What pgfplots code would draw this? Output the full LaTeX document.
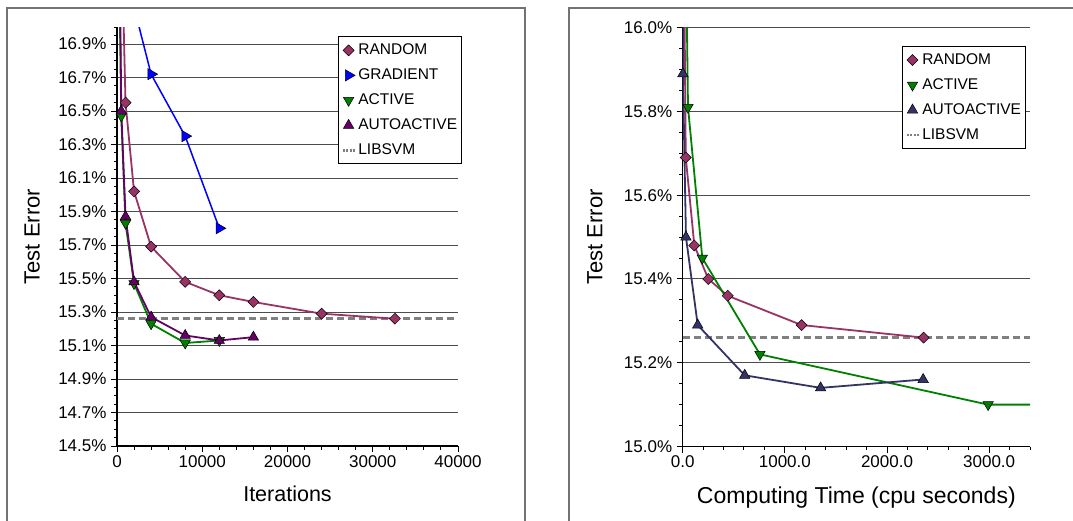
\documentclass[border=0pt]{standalone}
\usepackage{pgfplots}
\pgfplotsset{compat=1.18}
\usepackage{fontspec}
\setmainfont{Liberation Sans}
\definecolor{crand}{HTML}{993366}
\definecolor{cgrad}{HTML}{0000FF}
\definecolor{cact}{HTML}{008000}
\definecolor{cauto}{HTML}{660066}
\definecolor{cautob}{HTML}{333366}
\definecolor{clib}{HTML}{808080}
\pgfplotsset{
  base/.style={
    scale only axis, axis lines=left, axis line style={-, line width=1.3pt, black},
    tick align=outside, major tick length=6pt, minor tick length=3.5pt,
    tick style={black, line width=1pt},
    ymajorgrids, major grid style={black!70, line width=1pt},
    yticklabel style={font=\fontsize{17}{20}\selectfont, xshift=-1pt},
    xticklabel style={font=\fontsize{17}{20}\selectfont},
    every axis y label/.style={rotate=90, anchor=center, font=\fontsize{22}{26}\selectfont},
    every axis x label/.style={anchor=center, font=\fontsize{22}{26}\selectfont},
    scaled ticks=false,
    minor y tick num=3, minor x tick num=4,
    legend cell align=left,
    legend style={draw=black, line width=0.8pt, font=\fontsize{15.5}{18}\selectfont,
      anchor=north west, inner xsep=3pt, inner ysep=5.5pt, row sep=9pt,
      nodes={inner sep=1.5pt, text height=11pt, text depth=2pt}},
    legend image code/.code={\path (0pt,0pt) (13pt,0pt); \draw[##1] plot coordinates {(6pt,0pt)};},
  },
  rand/.style={color=crand, line width=1.8pt, mark=square*, mark size=3.9pt,
    mark options={rotate=45, fill=crand, draw=black, line width=0.5pt, solid}},
  grad/.style={color=cgrad, line width=1.5pt, mark=triangle*, mark size=6.5pt,
    mark options={rotate=-90, fill=cgrad, draw=black, line width=0.5pt, solid}},
  act/.style={color=cact, line width=1.8pt, mark=triangle*, mark size=6pt,
    mark options={rotate=180, fill=cact, draw=black, line width=0.5pt, solid}},
  auto/.style={color=cauto, line width=1.8pt, mark=triangle*, mark size=6pt,
    mark options={fill=cauto, draw=black, line width=0.5pt, solid}},
  autob/.style={color=cautob, line width=1.8pt, mark=triangle*, mark size=6pt,
    mark options={fill=cautob, draw=black, line width=0.5pt, solid}},
  lib/.style={color=clib, line width=3pt, dash pattern=on 7pt off 4pt},
}
\begin{document}
\begin{tikzpicture}[x=1pt,y=1pt]
\useasboundingbox (0,0) rectangle (1073,-520);
\clip (0,0) rectangle (1073,-520);
\draw[black!55, line width=1.6pt] (7,-8) rectangle (525,-560);
\draw[black!55, line width=1.6pt] (569,-8) rectangle (1100,-560);

\begin{axis}[base, at={(117pt,-446pt)}, anchor=south west,
  width=341pt, height=418.75pt,
  xmin=0, xmax=40000, ymin=14.5, ymax=17.0,
  xtick={0,10000,20000,30000,40000},
  xticklabels={0,10000,20000,30000,40000},
  ytick={14.5,14.7,14.9,15.1,15.3,15.5,15.7,15.9,16.1,16.3,16.5,16.7,16.9},
  yticklabels={14.5\%,14.7\%,14.9\%,15.1\%,15.3\%,15.5\%,15.7\%,15.9\%,16.1\%,16.3\%,16.5\%,16.7\%,16.9\%},
  extra y ticks={16.95,17.0}, extra y tick labels={},
  extra y tick style={major tick length=3.5pt, grid=none},
  xlabel={Iterations}, ylabel={Test Error},
  xlabel style={at={(axis description cs:0.5,-0.115)}, font=\fontsize{21.5}{26}\selectfont},
  ylabel style={at={(axis description cs:-0.249,0.5)}},
  legend style={at={(axis description cs:0.648,0.978)}},
]
\addplot[lib, forget plot] coordinates {(0,15.26) (40000,15.26)};
\addplot[rand, mark=none, forget plot] coordinates {(500,17.6) (1000,16.55)};
\addplot[rand] coordinates {(1000,16.55) (2000,16.02) (4000,15.69) (8000,15.48) (12000,15.40) (16000,15.36) (24000,15.29) (32600,15.26)};
\addlegendentry{RANDOM}
\addplot[grad, mark=none, forget plot] coordinates {(2000,17.12) (4000,16.72)};
\addplot[grad] coordinates {(4000,16.72) (8000,16.35) (12000,15.80)};
\addlegendentry{GRADIENT}
\addplot[act, mark=none, forget plot] coordinates {(250,17.36) (500,16.47)};
\addplot[act] coordinates {(500,16.47) (1000,15.83) (2000,15.47) (4000,15.23) (8000,15.115) (12000,15.13)};
\addlegendentry{ACTIVE}
\addplot[auto, mark=none, forget plot] coordinates {(250,17.8) (500,16.50)};
\addplot[auto] coordinates {(500,16.50) (1000,15.87) (2000,15.48) (4000,15.27) (8000,15.16) (12000,15.13) (16000,15.15)};
\addlegendentry{AUTOACTIVE}
\addlegendimage{legend image code/.code={\draw[clib, line width=2.5pt, dash pattern=on 2pt off 1.5pt] (0pt,0pt) -- (13pt,0pt);}}
\addlegendentry{LIBSVM}
\end{axis}

\begin{axis}[base, at={(682.7pt,-446.5pt)}, anchor=south west,
  width=347.3pt, height=418.8pt,
  xmin=0, xmax=3400, ymin=15.0, ymax=16.0,
  xtick={0,1000,2000,3000},
  xticklabels={0.0,1000.0,2000.0,3000.0},
  extra x ticks={3200,3400}, extra x tick labels={},
  extra x tick style={major tick length=3.5pt},
  ytick={15.0,15.2,15.4,15.6,15.8,16.0},
  yticklabels={15.0\%,15.2\%,15.4\%,15.6\%,15.8\%,16.0\%},
  xlabel={Computing Time (cpu seconds)}, ylabel={Test Error},
  xlabel style={at={(axis description cs:0.5,-0.121)}, font=\fontsize{23}{27}\selectfont},
  ylabel style={at={(axis description cs:-0.2525,0.5)}},
  legend style={at={(axis description cs:0.631,0.956)}},
]
\addplot[lib, forget plot] coordinates {(0,15.26) (3400,15.26)};
\addplot[rand, mark=none, forget plot] coordinates {(5,16.4) (30,15.69)};
\addplot[rand] coordinates {(30,15.69) (114,15.48) (251,15.40) (440,15.36) (1164,15.29) (2358,15.26)};
\addlegendentry{RANDOM}
\addplot[act, mark=none, forget plot] coordinates {(25,16.3) (52,15.81) (192,15.45) (756,15.22) (2990,15.10) (3500,15.10)};
\addplot[act, only marks] coordinates {(52,15.81) (192,15.45) (756,15.22) (2990,15.10)};
\addlegendentry{ACTIVE}
\addplot[autob, mark=none, forget plot] coordinates {(0,16.6) (2,15.89)};
\addplot[autob] coordinates {(2,15.89) (32,15.50) (147,15.29) (607,15.17) (1350,15.14) (2354,15.16)};
\addlegendentry{AUTOACTIVE}
\addlegendimage{legend image code/.code={\draw[clib, line width=2.5pt, dash pattern=on 2pt off 1.5pt] (0pt,0pt) -- (13pt,0pt);}}
\addlegendentry{LIBSVM}
\end{axis}
\end{tikzpicture}
\end{document}
